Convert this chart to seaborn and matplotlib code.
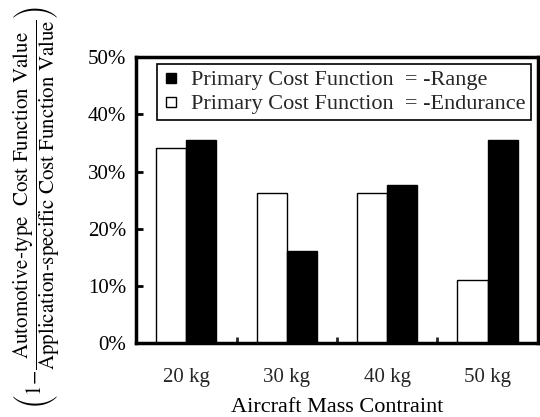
import matplotlib
matplotlib.use("Agg")
import matplotlib.pyplot as plt
from matplotlib.lines import Line2D
from matplotlib.ticker import PercentFormatter, FixedLocator
import seaborn as sns
import pandas as pd

masses = ["20 kg", "30 kg", "40 kg", "50 kg"]
endurance = [0.342, 0.263, 0.263, 0.110]
range_ = [0.356, 0.161, 0.277, 0.356]

df = pd.DataFrame({
    "mass": masses * 2,
    "value": endurance + range_,
    "cost": ["Endurance"] * 4 + ["Range"] * 4,
})

sns.set_theme(style="white")
plt.rcParams["font.family"] = ["Liberation Serif", "DejaVu Serif"]
plt.rcParams["mathtext.fontset"] = "stix"

fig = plt.figure(figsize=(5.4, 4.17), dpi=100)
ax = fig.add_axes([0.252, 0.177, 0.744, 0.686])

sns.barplot(data=df, x="mass", y="value", hue="cost",
            hue_order=["Endurance", "Range"],
            palette={"Endurance": "white", "Range": "black"},
            width=0.6, edgecolor="black", linewidth=1.0,
            ax=ax, legend=False, errorbar=None)

ax.set_xlim(-0.5, 3.5)
ax.set_ylim(0, 0.5)
ax.set_yticks([0, 0.1, 0.2, 0.3, 0.4, 0.5])
ax.yaxis.set_major_formatter(PercentFormatter(1.0, decimals=0))
ax.tick_params(axis="y", direction="in", length=5, width=2, labelsize=15,
               left=True, pad=7, colors="black")
ax.tick_params(axis="x", which="major", length=0, labelsize=15, pad=18)
ax.xaxis.set_minor_locator(FixedLocator([0.5, 1.5, 2.5]))
ax.tick_params(axis="x", which="minor", direction="in", length=4, width=2,
               bottom=True)

for s in ax.spines.values():
    s.set_visible(True)
    s.set_color("black")
    s.set_linewidth(2.5)

ax.set_xlabel("Aircraft Mass Contraint", fontsize=16, labelpad=8, color="black")
ax.set_ylabel("")

handles = [
    Line2D([], [], marker="s", linestyle="none", markersize=7,
           markerfacecolor="black", markeredgecolor="black"),
    Line2D([], [], marker="s", linestyle="none", markersize=7,
           markerfacecolor="white", markeredgecolor="black", markeredgewidth=1),
]
labels = ["Primary Cost Function  = -Range",
          "Primary Cost Function  = -Endurance"]
leg = ax.legend(handles, labels, loc="upper left",
                bbox_to_anchor=(0.052, 0.975), borderaxespad=0,
                fontsize=16, frameon=True, fancybox=False, framealpha=1,
                edgecolor="black", handlelength=0.8, handletextpad=0.5,
                borderpad=0.25, labelspacing=0.15)
leg.get_frame().set_linewidth(1.2)

ylabel = (r"$\left(1\!-\!\dfrac{\text{Automotive-type  Cost Function Value}}"
          r"{\text{Application-specific Cost Function Value}}\right)$")
fig.text(0.068, 0.502, ylabel, rotation=90, ha="center", va="center",
         fontsize=15, color="black")

fig.savefig("out.png", dpi=100)
